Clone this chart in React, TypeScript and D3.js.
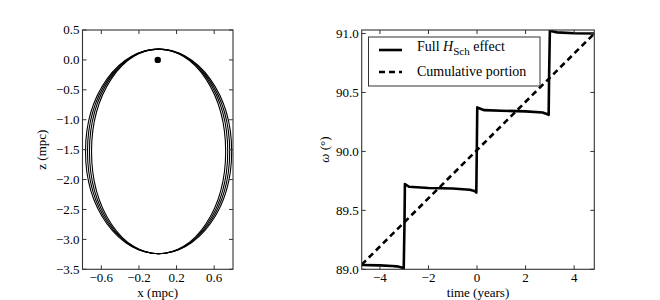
import React from 'react';
import * as d3 from 'd3';

// left panel: projected orbits (mpc)
const orbitCenterX = [0.009, 0.009, 0.009, 0.009];
const orbitCenterZ = [-1.53, -1.53, -1.53, -1.53];
const orbitSemiX = [0.777, 0.756, 0.735, 0.713];
const orbitSemiZ = [1.71, 1.71, 1.71, 1.71];
const blackHole = { x: 0.0, z: 0.0 };
const orbitXTicks = [-0.6, -0.2, 0.2, 0.6];
const orbitZTicks = [0.5, 0.0, -0.5, -1.0, -1.5, -2.0, -2.5, -3.0, -3.5];

// right panel: argument of periapsis vs time
const timeYears = [-4.75, -4.0, -3.5, -3.3, -3.1, -3.02, -2.99, -2.97, -2.8, -2.0, -1.0, -0.3, -0.1, -0.03, -0.01, 0.01, 0.03, 0.3, 1.0, 2.0, 2.7, 2.9, 2.95, 2.97, 3.0, 3.3, 4.0, 4.83];
const omegaFull = [89.037, 89.033, 89.028, 89.025, 89.015, 89.0, 89.36, 89.724, 89.70, 89.69, 89.685, 89.675, 89.665, 89.65, 90.0, 90.375, 90.37, 90.35, 90.345, 90.34, 90.33, 90.315, 90.31, 90.66, 91.023, 91.01, 91.003, 91.0];
const cumulativeTime = [-4.75, 4.83];
const cumulativeOmega = [89.04, 91.0];
const timeTicks = [-4, -2, 0, 2, 4];
const omegaTicks = [89.0, 89.5, 90.0, 90.5, 91.0];

const fmt = (v: number) => d3.format('.1f')(v).replace('-', '\u2212');
const fmtInt = (v: number) => String(v).replace('-', '\u2212');

const Frame = ({ x0, x1, y0, y1 }: { x0: number; x1: number; y0: number; y1: number }) => (
  <rect x={x0} y={y0} width={x1 - x0} height={y1 - y0} fill="none" stroke="#333" strokeWidth={1.1} />
);

const App = () => {
  // left panel
  const lx = d3.scaleLinear().domain([-0.8, 0.8]).range([82.5, 233]);
  const lz = d3.scaleLinear().domain([-3.5, 0.5]).range([269.3, 30]);

  // right panel
  const rx = d3.scaleLinear().domain([-4.75, 4.83]).range([361.7, 594.3]);
  const ry = d3.scaleLinear().domain([89.0, 91.03]).range([269.3, 30]);

  const fullLine = d3.line<number>()
    .x((_, i) => rx(timeYears[i]))
    .y((d) => ry(d));
  const cumLine = d3.line<number>()
    .x((_, i) => rx(cumulativeTime[i]))
    .y((d) => ry(d));

  const tickLen = 4;

  return (
    <svg width={660} height={300} style={{ position: 'absolute', left: 0, top: 0 }}>
      <style>{`text { font-family: 'Liberation Serif', 'Times New Roman', serif; font-size: 13px; fill: #000; } .legend { font-size: 14px; }`}</style>
      <rect width={660} height={300} fill="#fff" />
      <defs>
        <clipPath id="rclip">
          <rect x={rx.range()[0]} y={ry.range()[1]} width={rx.range()[1] - rx.range()[0]} height={ry.range()[0] - ry.range()[1]} />
        </clipPath>
      </defs>

      {/* left panel */}
      <g>
        {orbitSemiX.map((sx, i) => (
          <ellipse
            key={i}
            cx={lx(orbitCenterX[i])}
            cy={lz(orbitCenterZ[i])}
            rx={lx(orbitCenterX[i] + sx) - lx(orbitCenterX[i])}
            ry={lz(orbitCenterZ[i] - orbitSemiZ[i]) - lz(orbitCenterZ[i])}
            fill="none"
            stroke="#000"
            strokeWidth={1.1}
          />
        ))}
        <circle cx={lx(blackHole.x)} cy={lz(blackHole.z)} r={3.2} fill="#000" />
        <Frame x0={lx.range()[0]} x1={lx.range()[1]} y0={lz.range()[1]} y1={lz.range()[0]} />
        {orbitXTicks.map((t) => (
          <g key={t}>
            <line x1={lx(t)} x2={lx(t)} y1={lz.range()[0]} y2={lz.range()[0] - tickLen} stroke="#333" />
            <line x1={lx(t)} x2={lx(t)} y1={lz.range()[1]} y2={lz.range()[1] + tickLen} stroke="#333" />
            <text x={lx(t)} y={lz.range()[0] + 13} textAnchor="middle">{fmt(t)}</text>
          </g>
        ))}
        {orbitZTicks.map((t) => (
          <g key={t}>
            <line x1={lx.range()[0]} x2={lx.range()[0] + tickLen} y1={lz(t)} y2={lz(t)} stroke="#333" />
            <line x1={lx.range()[1]} x2={lx.range()[1] - tickLen} y1={lz(t)} y2={lz(t)} stroke="#333" />
            <text x={lx.range()[0] - 3} y={lz(t)} dy="0.33em" textAnchor="end">{fmt(t)}</text>
          </g>
        ))}
        <text x={(lx.range()[0] + lx.range()[1]) / 2} y={297} textAnchor="middle">x (mpc)</text>
        <text transform={`translate(46,${(lz.range()[0] + lz.range()[1]) / 2}) rotate(-90)`} textAnchor="middle">z (mpc)</text>
      </g>

      {/* right panel */}
      <g>
        <g clipPath="url(#rclip)">
          <path d={cumLine(cumulativeOmega) ?? ''} fill="none" stroke="#000" strokeWidth={2.6} strokeDasharray="6,4" />
          <path d={fullLine(omegaFull) ?? ''} fill="none" stroke="#000" strokeWidth={2.6} strokeLinejoin="round" />
        </g>
        <Frame x0={rx.range()[0]} x1={rx.range()[1]} y0={ry.range()[1]} y1={ry.range()[0]} />
        {timeTicks.map((t) => (
          <g key={t}>
            <line x1={rx(t)} x2={rx(t)} y1={ry.range()[0]} y2={ry.range()[0] - tickLen} stroke="#333" />
            <line x1={rx(t)} x2={rx(t)} y1={ry.range()[1]} y2={ry.range()[1] + tickLen} stroke="#333" />
            <text x={rx(t)} y={ry.range()[0] + 13} textAnchor="middle">{fmtInt(t)}</text>
          </g>
        ))}
        {omegaTicks.map((t) => (
          <g key={t}>
            <line x1={rx.range()[0]} x2={rx.range()[0] + tickLen} y1={ry(t)} y2={ry(t)} stroke="#333" />
            <line x1={rx.range()[1]} x2={rx.range()[1] - tickLen} y1={ry(t)} y2={ry(t)} stroke="#333" />
            <text x={rx.range()[0] - 3} y={ry(t)} dy="0.33em" textAnchor="end">{fmt(t)}</text>
          </g>
        ))}
        <text x={(rx.range()[0] + rx.range()[1]) / 2} y={297} textAnchor="middle">time (years)</text>
        <text transform={`translate(329,${(ry.range()[0] + ry.range()[1]) / 2}) rotate(-90)`} textAnchor="middle">
          <tspan fontStyle="italic">ω</tspan> (°)
        </text>

        {/* legend */}
        <rect x={368.5} y={37} width={171.5} height={49} fill="#fff" stroke="#333" strokeWidth={1} />
        <line x1={379} x2={402} y1={50} y2={50} stroke="#000" strokeWidth={2.6} />
        <line x1={379} x2={402} y1={72} y2={72} stroke="#000" strokeWidth={2.6} strokeDasharray="6,4" />
        <text className="legend" x={417} y={51}>
          Full <tspan fontStyle="italic">H</tspan>
          <tspan dy={4} style={{ fontSize: '11px' }}>Sch</tspan>
          <tspan dy={-4}> effect</tspan>
        </text>
        <text className="legend" x={417} y={76}>Cumulative portion</text>
      </g>
    </svg>
  );
};

export default App;
